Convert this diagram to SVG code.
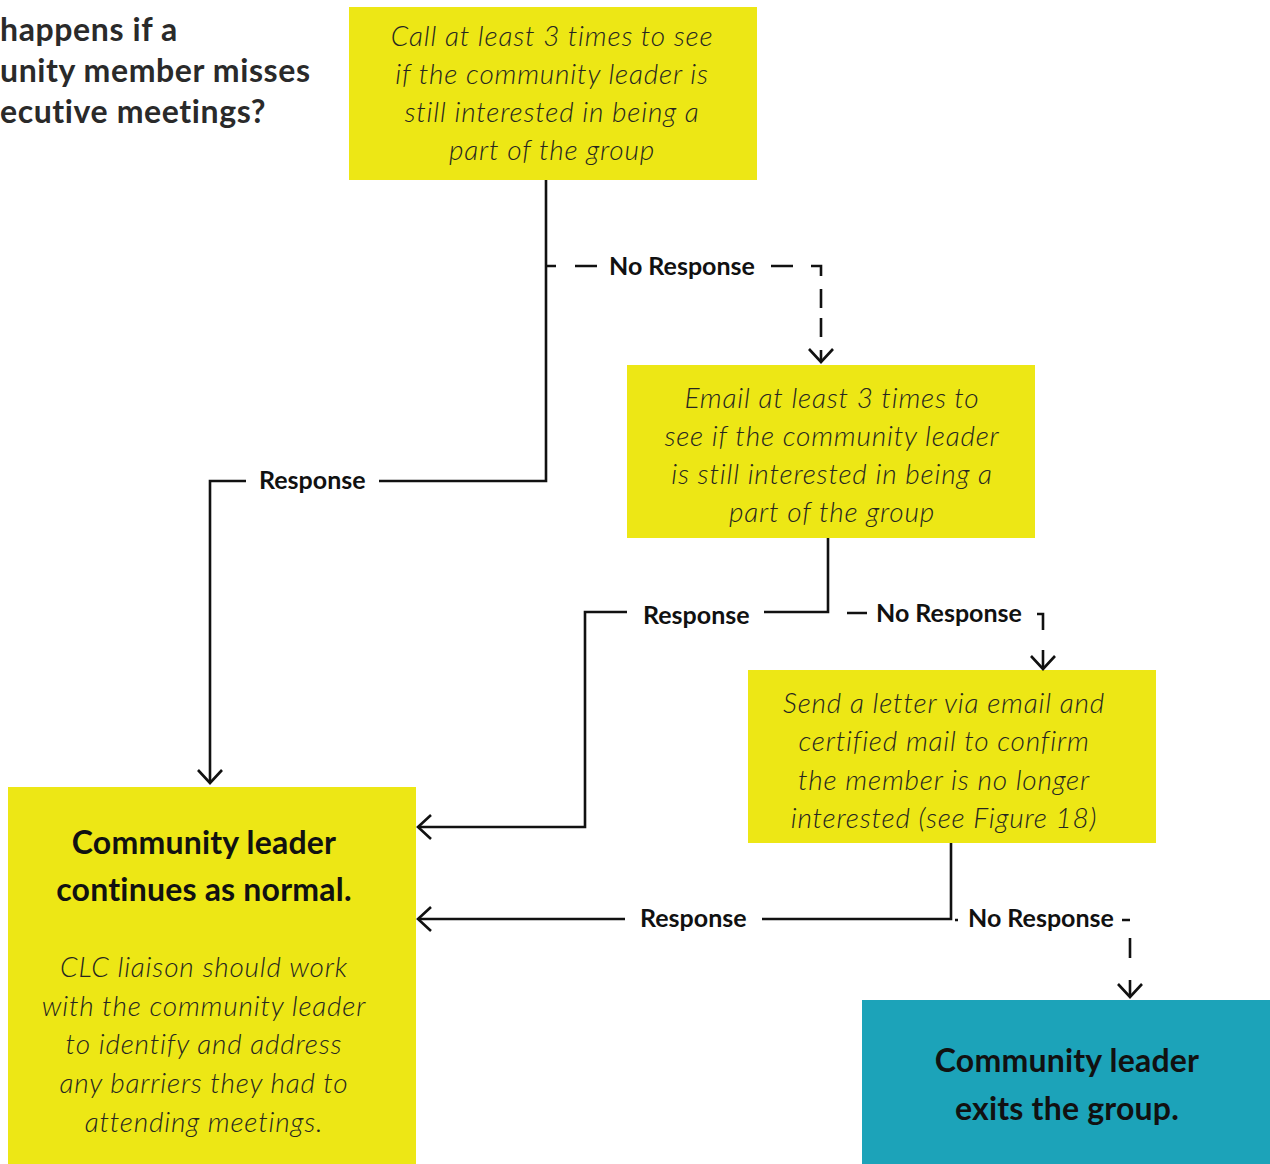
<svg xmlns="http://www.w3.org/2000/svg" width="1270" height="1164" viewBox="0 0 1270 1164">
<defs>
<style>
.box{fill:#ede715}
.teal{fill:#1ca3b9}
.it{font-family:Lato,"Open Sans","Liberation Sans",sans-serif;font-style:italic;font-weight:300;font-size:28px;letter-spacing:0.8px;fill:#262620;text-anchor:middle}
.bd{font-family:Lato,"Open Sans","Liberation Sans",sans-serif;font-weight:700;font-size:32px;letter-spacing:0.2px;fill:#111;text-anchor:middle}
.lb{font-family:Lato,"Open Sans","Liberation Sans",sans-serif;font-weight:700;font-size:25px;fill:#111}
.title{font-family:Lato,"Open Sans","Liberation Sans",sans-serif;font-weight:700;font-size:32px;letter-spacing:0.6px;fill:#2a2a2a}
.ln{fill:none;stroke:#111;stroke-width:2.6}
</style>
<marker id="ah" markerUnits="userSpaceOnUse" markerWidth="30" markerHeight="30" refX="0" refY="0" orient="auto" overflow="visible">
<path d="M-13,-12 L0,0 L-13,12" fill="none" stroke="#111" stroke-width="2.6"/>
</marker>
</defs>
<rect width="1270" height="1164" fill="#fff"/>
<g id="title">
<text class="title" x="0" y="41">happens if a</text>
<text class="title" x="0" y="82">unity member misses</text>
<text class="title" x="0" y="123">ecutive meetings?</text>
</g>
<g id="call">
<rect class="box" x="349" y="7" width="408" height="173"/>
<text class="it" x="552" y="46">Call at least 3 times to see</text>
<text class="it" x="552" y="84">if the community leader is</text>
<text class="it" x="552" y="122">still interested in being a</text>
<text class="it" x="552" y="160">part of the group</text>
</g>
<g id="email">
<rect class="box" x="627" y="365" width="408" height="173"/>
<text class="it" x="832" y="408">Email at least 3 times to</text>
<text class="it" x="832" y="446">see if the community leader</text>
<text class="it" x="832" y="484">is still interested in being a</text>
<text class="it" x="832" y="522">part of the group</text>
</g>
<g id="letter">
<rect class="box" x="748" y="670" width="408" height="173"/>
<text class="it" x="944" y="713">Send a letter via email and</text>
<text class="it" x="944" y="751">certified mail to confirm</text>
<text class="it" x="944" y="790">the member is no longer</text>
<text class="it" x="944" y="828">interested (see Figure 18)</text>
</g>
<g id="continues">
<rect class="box" x="8" y="787" width="408" height="377"/>
<text class="bd" x="204" y="854">Community leader</text>
<text class="bd" x="204" y="901">continues as normal.</text>
<text class="it" x="204" y="977">CLC liaison should work</text>
<text class="it" x="204" y="1016">with the community leader</text>
<text class="it" x="204" y="1054">to identify and address</text>
<text class="it" x="204" y="1093">any barriers they had to</text>
<text class="it" x="204" y="1132">attending meetings.</text>
</g>
<g id="exits">
<rect class="teal" x="862" y="1000" width="408" height="164"/>
<text class="bd" x="1067" y="1072">Community leader</text>
<text class="bd" x="1067" y="1120">exits the group.</text>
</g>
<g id="connectors">
<path class="ln" d="M546,180 V481 H379"/>
<path class="ln" d="M246,481 H210 V783" marker-end="url(#ah)"/>
<text class="lb" x="259" y="489">Response</text>
<path class="ln" d="M546,266 H556 M575,266 H597 M771,266 H793 M811,266 H821 V276 M821,289 V308 M821,318 V337"/>
<path class="ln" d="M821,350 V362" marker-end="url(#ah)"/>
<text class="lb" x="609" y="275">No Response</text>
<path class="ln" d="M828,538 V612 H764"/>
<path class="ln" d="M627,612 H585 V827 H418" marker-end="url(#ah)"/>
<text class="lb" x="643" y="624">Response</text>
<path class="ln" d="M847,613 H867 M1037,614 H1043 V630"/>
<path class="ln" d="M1043,650 V669" marker-end="url(#ah)"/>
<text class="lb" x="876" y="622">No Response</text>
<path class="ln" d="M951,843 V919 H762"/>
<path class="ln" d="M625,919 H418" marker-end="url(#ah)"/>
<text class="lb" x="640" y="927">Response</text>
<path class="ln" d="M955,920 H958 M1122,920 H1130 M1130,938 V958"/>
<path class="ln" d="M1130,980 V997" marker-end="url(#ah)"/>
<text class="lb" x="968" y="927">No Response</text>
</g>
</svg>
